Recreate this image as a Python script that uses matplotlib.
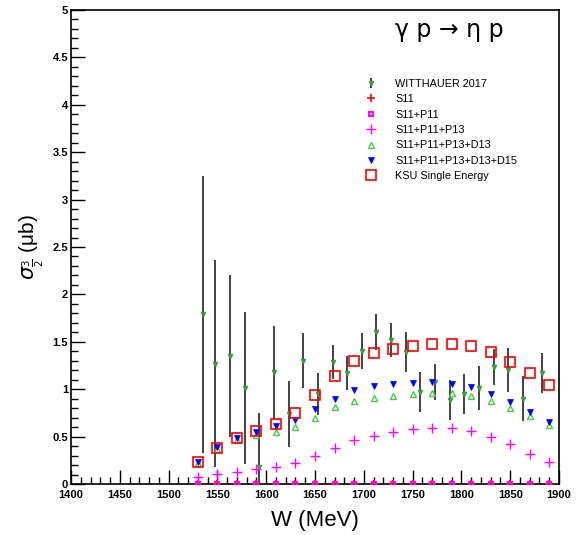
import numpy as np
import matplotlib.pyplot as plt
from matplotlib.ticker import MultipleLocator

# model curves evaluated every 20 MeV
w_model = [1530, 1550, 1570, 1590, 1610, 1630, 1650, 1670, 1690, 1710,
           1730, 1750, 1770, 1790, 1810, 1830, 1850, 1870, 1890]
s11 = [0.0] * len(w_model)
s11_p11 = [0.0] * len(w_model)
s11_p11_p13 = [0.07, 0.105, 0.13, 0.16, 0.18, 0.225, 0.295, 0.377, 0.46, 0.51,
               0.545, 0.58, 0.59, 0.59, 0.56, 0.50, 0.42, 0.32, 0.23]
s11_p11_p13_d13 = [0.22, 0.37, 0.46, 0.52, 0.55, 0.60, 0.70, 0.81, 0.88, 0.91,
                   0.93, 0.95, 0.96, 0.96, 0.93, 0.88, 0.80, 0.72, 0.62]
s11_p11_p13_d13_d15 = [0.23, 0.39, 0.49, 0.55, 0.61, 0.68, 0.79, 0.90, 0.99, 1.03,
                       1.05, 1.07, 1.08, 1.06, 1.02, 0.95, 0.86, 0.76, 0.65]
ksu_se = [0.23, 0.38, 0.49, 0.56, 0.63, 0.75, 0.94, 1.14, 1.30, 1.38,
          1.42, 1.46, 1.48, 1.48, 1.46, 1.39, 1.29, 1.17, 1.04]

# Witthauer 2017 measurement
w_data = [1535, 1548, 1563, 1578, 1593, 1608, 1623, 1638, 1653, 1668, 1683, 1698,
          1713, 1728, 1743, 1758, 1773, 1788, 1803, 1818, 1833, 1848, 1863, 1883]
sig_data = [1.79, 1.27, 1.35, 1.01, 0.18, 1.18, 0.74, 1.30, 0.95, 1.29, 1.17, 1.40,
            1.60, 1.52, 1.39, 0.97, 1.08, 0.89, 0.95, 1.01, 1.23, 1.20, 0.90, 1.17]
err_data = [1.46, 1.09, 0.85, 0.80, 0.57, 0.49, 0.35, 0.29, 0.22, 0.18, 0.18, 0.19,
            0.19, 0.18, 0.21, 0.21, 0.19, 0.21, 0.21, 0.23, 0.19, 0.23, 0.24, 0.21]

plt.rcParams['font.family'] = ['Liberation Sans', 'DejaVu Sans']

fig = plt.figure(figsize=(5.8, 5.35), dpi=100)
ax = fig.add_axes([71/580, 1 - 484/535, 488/580, 474/535])

green = '#3c9c3c'
light_green = '#44cc44'

h = []
h.append(ax.errorbar(w_data, sig_data, yerr=err_data, fmt='v', ms=3, color=green,
                     ecolor='#222222', elinewidth=1.2, capsize=0,
                     label='WITTHAUER 2017', zorder=2))
h += ax.plot(w_model, s11, '+', color='red', ms=6, mew=1.2, label='S11', zorder=3)
h += ax.plot(w_model, s11_p11, 's', color='magenta', mfc='none', ms=3.5, mew=1.5,
             label='S11+P11', zorder=4)
h += ax.plot(w_model, s11_p11_p13, '+', color='magenta', ms=7, mew=1.0,
             label='S11+P11+P13', zorder=3)
h += ax.plot(w_model, s11_p11_p13_d13, '^', color=light_green, mfc='none', ms=4.5,
             mew=1.0, label='S11+P11+P13+D13', zorder=3)
h += ax.plot(w_model, s11_p11_p13_d13_d15, 'v', color='blue', ms=4, mew=0.5,
             label='S11+P11+P13+D13+D15', zorder=3)
h += ax.plot(w_model, ksu_se, 's', color='red', mfc='none', ms=7, mew=1.2,
             label='KSU Single Energy', zorder=3)

ax.set_xlim(1400, 1900)
ax.set_ylim(0, 5)
ax.xaxis.set_major_locator(MultipleLocator(50))
ax.xaxis.set_minor_locator(MultipleLocator(10))
ax.yaxis.set_major_locator(MultipleLocator(0.5))
ax.yaxis.set_minor_locator(MultipleLocator(0.1))
ax.tick_params(which='both', direction='in', top=False, right=False, width=1.0)
ax.tick_params(which='major', length=10, labelsize=8, pad=2)
ax.tick_params(axis='x', which='major', pad=4.5)
ax.tick_params(which='minor', length=5)
for lab in ax.get_xticklabels() + ax.get_yticklabels():
    lab.set_fontweight('bold')
ax.yaxis.set_major_formatter(plt.FuncFormatter(lambda v, p: '%g' % v))
for sp in ax.spines.values():
    sp.set_linewidth(1.2)

ax.set_xlabel('W (MeV)', fontsize=16, labelpad=7)
ax.set_ylabel(r'$\sigma_{\frac{3}{2}}$ (μb)', fontsize=15)
ax.yaxis.set_label_coords(-0.052, 0.5)

ax.text(0.775, 0.957, 'γ p → η p', transform=ax.transAxes, fontsize=17,
        ha='center', va='center', family=['DejaVu Sans'])

ax.legend(handles=h, loc='upper left', bbox_to_anchor=(0.603, 0.855), frameon=False,
          fontsize=7.8, handlelength=1.0, handletextpad=1.75, labelspacing=0.5,
          borderpad=0, borderaxespad=0)

fig.savefig('out.png', dpi=100)
